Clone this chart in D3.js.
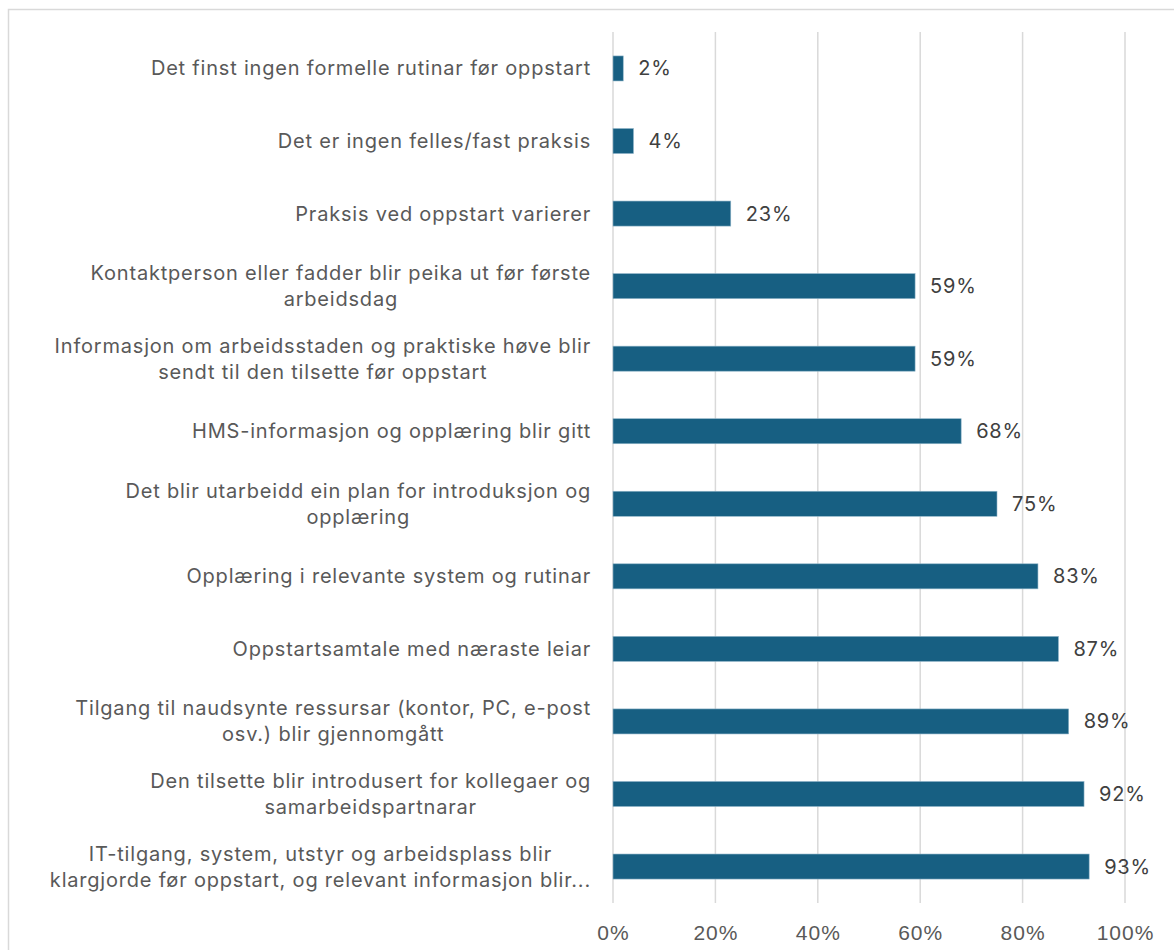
<!DOCTYPE html>
<html>
<head>
<meta charset="utf-8">
<script src="https://cdn.jsdelivr.net/npm/d3@7"></script>
<style>
  body { margin: 0; background: #fff; }
  svg { display: block; font-family: Inter, "Noto Sans", sans-serif; }
</style>
</head>
<body>
<div id="chart"></div>
<script>
// categories, top to bottom (line breaks as in the original)
const categories = [
  ['Det finst ingen formelle rutinar før oppstart'],
  ['Det er ingen felles/fast praksis'],
  ['Praksis ved oppstart varierer'],
  ['Kontaktperson eller fadder blir peika ut før første', 'arbeidsdag'],
  ['Informasjon om arbeidsstaden og praktiske høve blir', 'sendt til den tilsette før oppstart'],
  ['HMS-informasjon og opplæring blir gitt'],
  ['Det blir utarbeidd ein plan for introduksjon og', 'opplæring'],
  ['Opplæring i relevante system og rutinar'],
  ['Oppstartsamtale med næraste leiar'],
  ['Tilgang til naudsynte ressursar (kontor, PC, e-post', 'osv.) blir gjennomgått'],
  ['Den tilsette blir introdusert for kollegaer og', 'samarbeidspartnarar'],
  ['IT-tilgang, system, utstyr og arbeidsplass blir', 'klargjorde før oppstart, og relevant informasjon blir...']
];

const values = [2, 4, 23, 59, 59, 68, 75, 83, 87, 89, 92, 93];

const tickValues = [0, 20, 40, 60, 80, 100];

const W = 1174, H = 950;
const margin = { top: 32, left: 613, right: 49, bottom: 47 };
const width = W - margin.left - margin.right,
  height = H - margin.top - margin.bottom;

const barColor = '#175f82';
const textColor = '#595959';

const svg = d3.select('#chart').append('svg')
  .attr('width', W)
  .attr('height', H);

// chart frame (only top and left edges are inside the picture)
svg.append('rect')
  .attr('x', 8.5).attr('y', 9.5)
  .attr('width', W).attr('height', H)
  .attr('fill', 'none')
  .attr('stroke', '#d9d9d9')
  .attr('stroke-width', 1.5);

const idx = values.map((d, i) => i);

const x = d3.scaleLinear().domain([0, 100]).range([0, width]);
const y = d3.scaleBand().domain(idx).range([0, height]).paddingInner(0.655).paddingOuter(0.33);

const g = svg.append('g')
  .attr('transform', 'translate(' + margin.left + ',' + margin.top + ')');

// gridlines
g.selectAll('.grid')
  .data(tickValues)
  .enter().append('line')
    .attr('class', 'grid')
    .attr('x1', d => x(d)).attr('x2', d => x(d))
    .attr('y1', 0).attr('y2', height)
    .attr('stroke', '#d9d9d9')
    .attr('stroke-width', 1.5);

// x axis labels
const xAxis = d3.axisBottom(x)
  .tickValues(tickValues)
  .tickFormat(d => d + '%')
  .tickSize(0)
  .tickPadding(22);
const ax = g.append('g')
  .attr('transform', 'translate(0,' + height + ')')
  .call(xAxis);
ax.select('.domain').remove();
ax.selectAll('text')
  .attr('fill', textColor)
  .style('font-size', '21px')
  .style('letter-spacing', '1px');

// bars
g.selectAll('.bar')
  .data(values)
  .enter().append('rect')
    .attr('class', 'bar')
    .attr('x', x(0))
    .attr('y', (d, i) => y(i))
    .attr('width', d => x(d) - x(0))
    .attr('height', y.bandwidth())
    .attr('fill', barColor)
    .attr('stroke', '#8fb4c8')
    .attr('stroke-width', 0.6);

// value labels
g.selectAll('.val')
  .data(values)
  .enter().append('text')
    .attr('class', 'val')
    .attr('x', d => x(d) + 15)
    .attr('y', (d, i) => y(i) + y.bandwidth() / 2)
    .attr('dy', '0.35em')
    .attr('fill', '#404040')
    .style('font-size', '20px')
    .style('letter-spacing', '0.8px')
    .text(d => d + '%');

// category labels, each block right-aligned and its lines centered
const lineH = 26;
const labels = g.selectAll('.cat')
  .data(categories)
  .enter().append('text')
    .attr('class', 'cat')
    .attr('fill', textColor)
    .style('font-size', '20px')
    .style('letter-spacing', '0.8px')
    .attr('text-anchor', 'middle');

labels.each(function(lines, i) {
  const t = d3.select(this);
  const cy = y(i) + y.bandwidth() / 2;
  lines.forEach((line, j) => {
    t.append('tspan')
      .attr('y', cy + (j - (lines.length - 1) / 2) * lineH)
      .attr('dy', '0.35em')
      .text(line);
  });
  // block width = longest line
  let maxW = 0;
  t.selectAll('tspan').each(function() { maxW = Math.max(maxW, this.getComputedTextLength()); });
  t.selectAll('tspan').attr('x', -22 - maxW / 2);
});
</script>
</body>
</html>
